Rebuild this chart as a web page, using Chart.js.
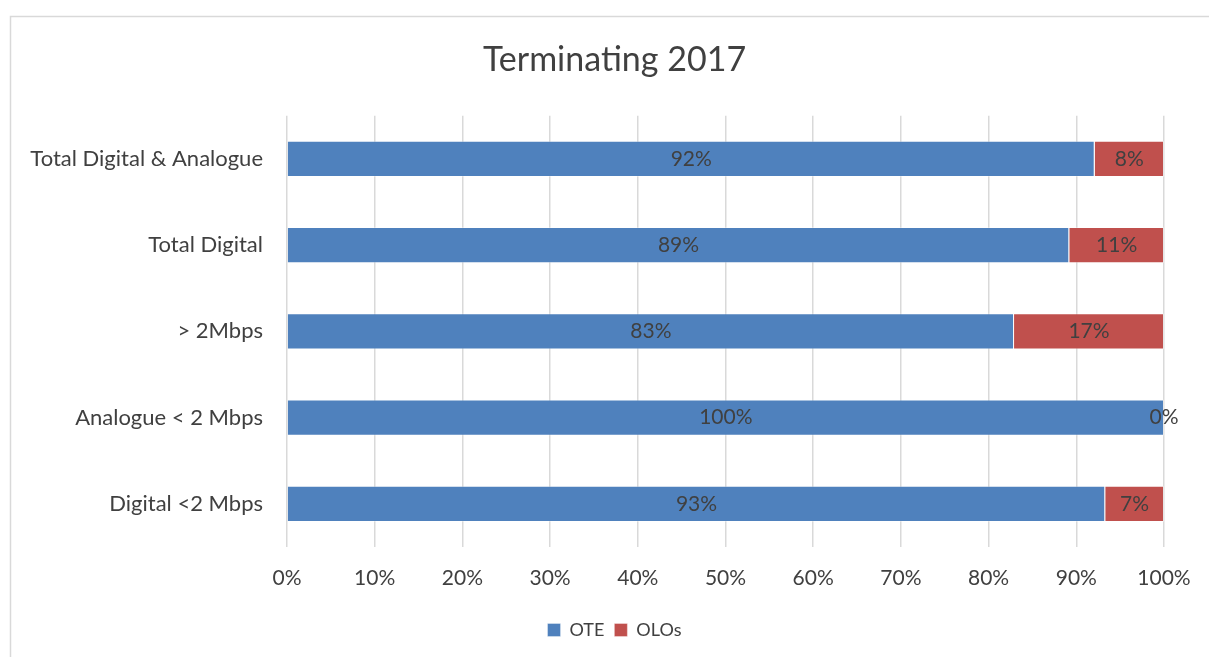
<!DOCTYPE html>
<html>
<head>
<meta charset="utf-8">
<script src="https://cdn.jsdelivr.net/npm/chart.js@4"></script>
<style>
  html, body { margin: 0; padding: 0; background: #fff; }
  #wrap { position: relative; width: 1209px; height: 657px; }
</style>
</head>
<body>
<div id="wrap"><canvas id="c" width="1209" height="657"></canvas></div>
<script>
const categories = ['Total Digital & Analogue', 'Total Digital', '> 2Mbps', 'Analogue < 2 Mbps', 'Digital <2 Mbps'];
const oteValues = [92.1, 89.2, 82.9, 100, 93.3];
const oloValues = [7.9, 10.8, 17.1, 0, 6.7];
const xTickLabels = ['0%', '10%', '20%', '30%', '40%', '50%', '60%', '70%', '80%', '90%', '100%'];

const textColor = '#404040';
const fontFamily = 'Lato, "Open Sans", sans-serif';

const framePlugin = {
  id: 'frame',
  beforeDraw(chart) {
    const ctx = chart.ctx;
    ctx.save();
    ctx.fillStyle = '#fff';
    ctx.fillRect(0, 0, chart.width, chart.height);
    ctx.strokeStyle = '#d9d9d9';
    ctx.lineWidth = 1.5;
    ctx.beginPath();
    ctx.moveTo(10.5, chart.height);
    ctx.lineTo(10.5, 16.5);
    ctx.lineTo(chart.width, 16.5);
    ctx.stroke();
    ctx.restore();
  }
};

const labelPlugin = {
  id: 'segLabels',
  afterDatasetsDraw(chart) {
    const ctx = chart.ctx;
    ctx.save();
    ctx.font = '21px ' + fontFamily;
    ctx.fillStyle = textColor;
    ctx.textAlign = 'center';
    ctx.textBaseline = 'middle';
    chart.data.datasets.forEach((ds, di) => {
      const meta = chart.getDatasetMeta(di);
      meta.data.forEach((bar, i) => {
        const v = ds.data[i];
        const x = (bar.x + bar.base) / 2;
        ctx.fillText(Math.round(v) + '%', x, bar.y);
      });
    });
    ctx.restore();
  }
};

new Chart(document.getElementById('c'), {
  type: 'bar',
  data: {
    labels: categories,
    datasets: [
      { label: 'OTE', data: oteValues, backgroundColor: '#4F81BD', borderColor: 'rgba(255,255,255,0.35)', borderWidth: 1, categoryPercentage: 1, barPercentage: 0.42 },
      { label: 'OLOs', data: oloValues, backgroundColor: '#C0504D', borderColor: 'rgba(255,255,255,0.35)', borderWidth: 1, categoryPercentage: 1, barPercentage: 0.42 }
    ]
  },
  options: {
    indexAxis: 'y',
    responsive: false,
    animation: false,
    devicePixelRatio: 1,
    layout: { padding: { left: 20, right: 0, top: 0, bottom: 8 } },
    plugins: {
      title: {
        display: true,
        text: 'Terminating 2017',
        color: textColor,
        font: { family: fontFamily, size: 34, weight: 'normal' },
        padding: { top: 40, bottom: 35 }
      },
      legend: {
        display: true,
        position: 'bottom',
        labels: {
          color: textColor,
          font: { family: fontFamily, size: 18 },
          boxWidth: 13,
          boxHeight: 13,
          padding: 10
        }
      },
      tooltip: { enabled: false }
    },
    scales: {
      x: {
        stacked: true,
        min: 0,
        max: 100,
        ticks: {
          stepSize: 10,
          color: textColor,
          font: { family: fontFamily, size: 21 },
          padding: 19,
          callback: (v, i) => xTickLabels[i]
        },
        grid: { color: '#d9d9d9', lineWidth: 1.5, drawTicks: false },
        border: { display: false },
        afterFit(scale) { scale.height = 64; scale.paddingRight = 45; }
      },
      y: {
        stacked: true,
        ticks: {
          color: textColor,
          font: { family: fontFamily, size: 22 },
          padding: 24
        },
        grid: { display: false, drawTicks: false },
        border: { display: false },
        afterFit(scale) { scale.width = 267; }
      }
    }
  },
  plugins: [framePlugin, labelPlugin]
});
</script>
</body>
</html>
